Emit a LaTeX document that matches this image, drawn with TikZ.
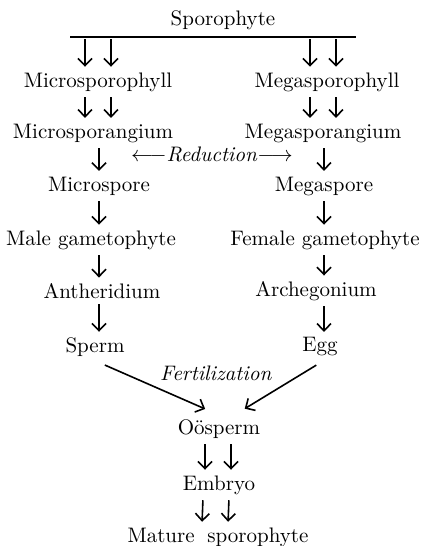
\documentclass[tikz,border=0pt]{standalone}
\usetikzlibrary{arrows.meta}
\begin{document}
\begin{tikzpicture}[x=0.5pt, y=0.5pt, line width=0.8pt,
	>={Straight Barb[length=3.6pt, width=7pt, line width=0.8pt]},
	font=\fontsize{10.5pt}{12pt}\selectfont,
	voce/.style={inner sep=1.5pt},
	freccia/.style={->, shorten <=1pt, shorten >=1pt},
	barra/.style={line width=0.9pt},
	]
	
	\def\dx{6.5pt}  % semi-distanza frecce doppie
	
	\useasboundingbox (0,0) rectangle (428,-546);
	
	%% ── Sporofito e barra ───────────────────────────────────────────────────
	\node[voce] (spo) at (223,-20) {Sporophyte};
	\coordinate (barL) at (70,-37);
	\coordinate (barR) at (356,-37);
	\draw[barra] (barL) -- (barR);
	
	%% ── Colonna sinistra ────────────────────────────────────────────────────
	\node[voce] (mphyll) at (98,-82)  {Microsporophyll};
	\node[voce] (mang)   at (93,-133) {Microsporangium};
	\node[voce] (mspore) at (99,-186) {Microspore};
	\node[voce] (male)   at (91,-240) {Male gametophyte};
	\node[voce] (anth)   at (102,-291) {Antheridium};
	\node[voce] (sperm)  at (95,-347) {Sperm};
	
	%% ── Colonna destra ──────────────────────────────────────────────────────
	\node[voce] (Mphyll) at (327,-82)  {Megasporophyll};
	\node[voce] (Mang)   at (323,-133) {Megasporangium};
	\node[voce] (Mspore) at (324,-186) {Megaspore};
	\node[voce] (female) at (325,-240) {Female gametophyte};
	\node[voce] (arch)   at (316,-291) {Archegonium};
	\node[voce] (egg)    at (320,-347) {Egg};
	
	%% ── Etichette ───────────────────────────────────────────────────────────
	\node[voce] (red)  at (212,-154) {$\longleftarrow$\textit{Reduction}$\longrightarrow$};
	\node[voce] (fert) at (216,-373) {\textit{Fertilization}};
	
	%% ── Parte centrale ──────────────────────────────────────────────────────
	\node[voce] (oos) at (219,-429) {O\"osperm};
	\node[voce] (emb) at (219,-485) {Embryo};
	\node[voce] (mat) at (218,-537) {Mature\hspace{0.6em}sporophyte};
	
	%% ── Frecce doppie in alto ───────────────────────────────────────────────
	\foreach \s in {-1,1}{
		\draw[freccia] ([xshift=\s*\dx]mphyll.north |- barL) -- ([xshift=\s*\dx]mphyll.north);
		\draw[freccia] ([xshift=\s*\dx-2pt]Mphyll.north |- barR) -- ([xshift=\s*\dx-2pt]Mphyll.north);
		\draw[freccia] ([xshift=\s*\dx]mphyll.south) -- ([xshift=\s*\dx]mphyll.south |- mang.north);
		\draw[freccia] ([xshift=\s*\dx-2pt]Mphyll.south) -- ([xshift=\s*\dx-2pt]Mphyll.south |- Mang.north);
	}
	
	%% ── Frecce semplici ─────────────────────────────────────────────────────
	\draw[freccia] (mang.south -| mspore) -- (mspore.north);
	\draw[freccia] (Mang.south -| Mspore) -- (Mspore.north);
	\draw[freccia] (mspore.south) -- (mspore.south |- male.north);
	\draw[freccia] (Mspore.south) -- (Mspore.south |- female.north);
	\draw[freccia] (male.south -| mspore) -- (anth.north -| mspore);
	\draw[freccia] (female.south -| Mspore) -- (arch.north -| Mspore);
	\draw[freccia] (anth.south -| mspore) -- (sperm.north -| mspore);
	\draw[freccia] (arch.south -| Mspore) -- (egg.north -| Mspore);
	
	%% ── Fecondazione ────────────────────────────────────────────────────────
	\draw[freccia] ([xshift=4pt,yshift=-2pt]sperm.south) -- ([xshift=-6pt,yshift=3pt]oos.north);
	\draw[freccia] ([xshift=-1pt,yshift=-2pt]egg.south) -- ([xshift=12pt,yshift=3pt]oos.north);
	
	%% ── Embrione e sporofito maturo ─────────────────────────────────────────
	\foreach \s in {-1,1}{
		\draw[freccia] ([xshift=\s*\dx-0.5pt]oos.south) -- ([xshift=\s*\dx-0.5pt]emb.north);
		\draw[freccia] ([xshift=\s*\dx-1.5pt]emb.south) -- ([xshift=\s*\dx-1.5pt]mat.north);
	}
	
\end{tikzpicture}
\end{document}
